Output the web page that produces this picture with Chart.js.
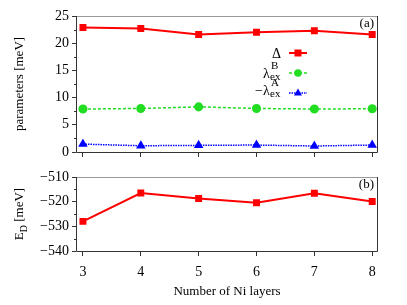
<!DOCTYPE html>
<html>
<head>
<meta charset="utf-8">
<script src="https://cdn.jsdelivr.net/npm/chart.js@4/dist/chart.umd.min.js"></script>
<style>
  body { margin: 0; background: #fff; }
  #wrap { position: relative; width: 407px; height: 305px; }
  #top, #bot { position: absolute; left: 0; }
  #top { top: 0; }
  #bot { top: 160px; }
</style>
</head>
<body>
<div id="wrap">
  <canvas id="top" width="407" height="165"></canvas>
  <canvas id="bot" width="407" height="145"></canvas>
</div>
<script>
// data
const layers = [3, 4, 5, 6, 7, 8];
const delta = [22.9, 22.7, 21.6, 22.0, 22.3, 21.6];
const lambdaB = [7.9, 8.0, 8.3, 8.0, 7.9, 7.95];
const negLambdaA = [1.45, 1.15, 1.22, 1.28, 1.1, 1.28];
const energyD = [-528.0, -516.5, -518.7, -520.4, -516.6, -519.9];

const topTicks = [0, 5, 10, 15, 20, 25];
const botTicks = [-540, -530, -520, -510];

const FONT = "'Liberation Serif', 'DejaVu Serif', serif";
const AXIS = '#333';

function pts(ys) {
    return layers.map((x, i) => ({ x: x, y: ys[i] }));
}

// border box + minor ticks + labels drawn on top
function framePlugin(opts) {
    return {
        id: 'frame',
        afterDraw(chart) {
            const c = chart.ctx, a = chart.chartArea;
            c.save();
            c.lineWidth = 1;
            c.strokeStyle = '#999';
            c.beginPath();
            c.moveTo(a.left, a.top + 0.5); c.lineTo(a.right, a.top + 0.5);
            c.stroke();
            c.strokeStyle = AXIS;
            c.beginPath();
            c.moveTo(a.left + 0.5, a.top); c.lineTo(a.left + 0.5, a.bottom + 0.5);
            c.lineTo(a.right - 0.5, a.bottom + 0.5); c.lineTo(a.right - 0.5, a.top);
            c.stroke();
            // minor y ticks
            const ys = chart.scales.y;
            c.beginPath();
            opts.minor.forEach(v => {
                const p = Math.round(ys.getPixelForValue(v)) + 0.5;
                c.moveTo(a.left - 2, p); c.lineTo(a.left, p);
            });
            c.stroke();
            // panel label
            c.fillStyle = '#000';
            c.font = '13px ' + FONT;
            c.textAlign = 'right';
            c.textBaseline = 'middle';
            c.fillText(opts.tag, a.right - 4, a.top + 8);
            // y title
            c.save();
            c.translate(20, (a.top + a.bottom) / 2);
            c.rotate(-Math.PI / 2);
            c.textAlign = 'center';
            c.font = '13px ' + FONT;
            opts.ytitle(c);
            c.restore();
            if (opts.legend) opts.legend(c);
            c.restore();
        }
    };
}

function lineMarker(c, x, y, color, dash, style) {
    c.save();
    c.strokeStyle = color;
    c.lineWidth = style === 'rect' ? 2 : 1.5;
    c.setLineDash(dash);
    c.beginPath(); c.moveTo(x - 9, y); c.lineTo(x + 9, y); c.stroke();
    c.setLineDash([]);
    c.fillStyle = color;
    c.beginPath();
    if (style === 'rect') c.rect(x - 3.5, y - 3.5, 7, 7);
    else if (style === 'circle') c.arc(x, y, 3.8, 0, Math.PI * 2);
    else { c.moveTo(x, y - 4.5); c.lineTo(x + 4, y + 2.5); c.lineTo(x - 4, y + 2.5); c.closePath(); }
    c.fill();
    c.restore();
}

function drawLegend(c) {
    c.textBaseline = 'alphabetic';
    c.textAlign = 'right';
    c.fillStyle = '#000';
    c.font = '14px ' + FONT;
    c.fillText('\u0394', 281, 58);
    lineMarker(c, 298, 53, '#ff0000', [], 'rect');

    // lambda_ex^B
    c.font = '14px ' + FONT;
    c.textAlign = 'left';
    c.fillText('\u03bb', 263, 78);
    c.font = '11px ' + FONT;
    c.fillText('ex', 270, 80);
    c.fillText('B', 271, 69);
    lineMarker(c, 298, 73, '#22dd22', [3, 2], 'circle');

    c.font = '14px ' + FONT;
    c.fillText('\u2212\u03bb', 255, 95);
    c.font = '11px ' + FONT;
    c.fillText('ex', 270, 97);
    c.fillText('A', 271, 86);
    lineMarker(c, 298, 93, '#0000ff', [1.5, 1], 'tri');
}

function axes(yTicks, yMin, yMax, showX, xHeight) {
    return {
        x: {
            type: 'linear', min: 2.88, max: 8.1,
            afterBuildTicks: s => { s.ticks = layers.map(v => ({ value: v })); },
            afterFit: s => { s.height = xHeight; },
            grid: { drawOnChartArea: false, tickLength: 5, color: AXIS },
            border: { display: false },
            ticks: { display: showX, color: '#000', padding: 8, font: { family: FONT, size: 14 } },
            title: {
                display: showX, text: 'Number of Ni layers', color: '#000',
                font: { family: FONT, size: 13 }, padding: { top: 4, bottom: 0 }
            }
        },
        y: {
            min: yMin, max: yMax,
            afterBuildTicks: s => { s.ticks = yTicks.map(v => ({ value: v })); },
            afterFit: s => { s.width = 76; },
            grid: { drawOnChartArea: false, tickLength: 4, color: AXIS },
            border: { display: false },
            ticks: {
                color: '#000', padding: 3, font: { family: FONT, size: 14 },
                callback: v => String(v).replace('-', '\u2212')
            }
        }
    };
}

new Chart(document.getElementById('top'), {
    type: 'line',
    data: {
        datasets: [
            { data: pts(delta), borderColor: '#ff0000', backgroundColor: '#ff0000', borderWidth: 2, pointStyle: 'rect', pointRadius: 3.5 },
            { data: pts(lambdaB), borderColor: '#22dd22', backgroundColor: '#22dd22', borderWidth: 1.5, borderDash: [3, 2], pointStyle: 'circle', pointRadius: 3.8 },
            { data: pts(negLambdaA), borderColor: '#0000ff', backgroundColor: '#0000ff', borderWidth: 1.5, borderDash: [1.5, 1], pointStyle: 'triangle', pointRadius: 4 }
        ]
    },
    options: {
        responsive: false, animation: false,
        layout: { padding: { top: 16, right: 29, left: 0, bottom: 0 } },
        plugins: { legend: { display: false }, tooltip: { enabled: false } },
        elements: { line: { tension: 0 }, point: { borderWidth: 0 } },
        scales: axes(topTicks, 0, 25, false, 13)
    },
    plugins: [framePlugin({
        minor: [2.5, 7.5, 12.5, 17.5, 22.5],
        tag: '(a)',
        ytitle: c => { c.textBaseline = 'middle'; c.fillText('parameters [meV]', 0, 0); },
        legend: drawLegend
    })]
});

new Chart(document.getElementById('bot'), {
    type: 'line',
    data: {
        datasets: [
            { data: pts(energyD), borderColor: '#ff0000', backgroundColor: '#ff0000', borderWidth: 2, pointStyle: 'rect', pointRadius: 3.5 }
        ]
    },
    options: {
        responsive: false, animation: false,
        layout: { padding: { top: 17, right: 29, left: 0, bottom: 6 } },
        plugins: { legend: { display: false }, tooltip: { enabled: false } },
        elements: { line: { tension: 0 }, point: { borderWidth: 0 } },
        scales: axes(botTicks, -540, -510, true, 48)
    },
    plugins: [framePlugin({
        minor: [-535, -525, -515],
        tag: '(b)',
        ytitle: c => {
            c.textBaseline = 'middle';
            c.textAlign = 'left';
            const w1 = c.measureText('E').width;
            c.font = '10px ' + FONT;
            const w2 = c.measureText('D').width;
            c.font = '13px ' + FONT;
            const w3 = c.measureText(' [meV]').width;
            let x = -(w1 + w2 + w3) / 2;
            c.fillText('E', x, 0); x += w1;
            c.font = '10px ' + FONT;
            c.fillText('D', x, 4); x += w2;
            c.font = '13px ' + FONT;
            c.fillText(' [meV]', x, 0);
        }
    })]
});
</script>
</body>
</html>
